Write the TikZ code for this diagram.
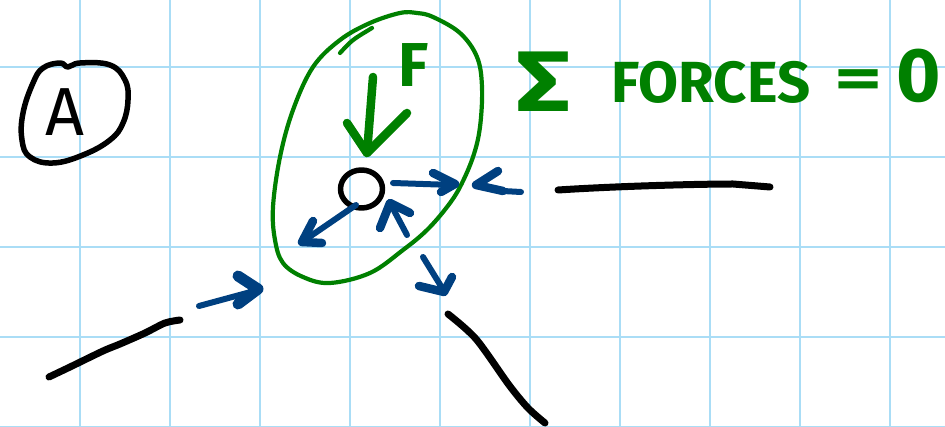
\documentclass[tikz,border=0pt]{standalone}
\usepackage{fontspec}
\setmainfont{Fira Sans}
\usetikzlibrary{shapes.geometric}
\definecolor{gridblue}{RGB}{170,221,246}
\definecolor{pgreen}{RGB}{0,128,0}
\definecolor{pblue}{RGB}{0,64,128}
\begin{document}
\begin{tikzpicture}[x=1pt,y=-1pt, line cap=round, line join=round,
  gridline/.style={gridblue, line width=2.6pt},
  ink/.style={black, line width=5.5pt},
  inkthick/.style={black, line width=7pt},
  gstroke/.style={pgreen, line width=4.2pt},
  gthick/.style={pgreen, line width=8.5pt},
  bstroke/.style={pblue, line width=6pt},
  bhead/.style={pblue, line width=8.5pt},
  lbl/.style={inner sep=0pt, anchor=center}]
\useasboundingbox (0,0) rectangle (945,427);
\fill[white] (0,0) rectangle (945,427);
% grid
\foreach \x in {80,170,...,890} \draw[gridline] (\x,0) -- (\x,427);
\foreach \y in {67,157,...,427} \draw[gridline] (0,\y) -- (945,\y);

% circled A
\draw[ink] plot[smooth cycle, tension=0.7] coordinates {
  (60,63) (68,67) (80,63) (110,65) (125,80) (128,100) (123,123) (110,140)
  (83,155) (53,163) (30,157) (22,140) (23,113) (33,83) (43,68)};
\node[lbl, font=\fontsize{68}{68}\selectfont\mdseries] (labelA) at (65,112) {A};

% green ellipse (system boundary)
\draw[gstroke] plot[smooth cycle, tension=0.6] coordinates {
  (417,13) (433,17) (460,33) (477,57) (482,87) (480,127) (473,157) (460,187)
  (447,207) (427,230) (403,250) (370,273) (330,283) (303,277) (283,263)
  (275,240) (273,207) (280,157) (293,110) (313,67) (340,40) (370,23) (400,13)};
\draw[gstroke] (340,53) .. controls (352,40) .. (372,28);

% F label and arrow
\node[lbl, pgreen, font=\fontsize{62}{62}\selectfont\bfseries] (labelF) at (414,65) {F};
\coordinate (ftail) at (373,77);
\coordinate (ftip) at (367,153);
\draw[gthick] (ftail) -- (ftip);
\draw[gthick] (347,123) -- (ftip) -- (407,113);

% particle
\node[draw, black, line width=5.5pt, ellipse, minimum width=42pt, minimum height=38pt, inner sep=0pt] (particle) at (361.5,189) {};

% blue force arrows
% right
\draw[bstroke] (393,183) -- (453,185);
\draw[bhead] (433,173) -- (455,184) -- (441,192);
% lower-left
\draw[bstroke] (356,205) -- (302,242);
\draw[bhead] (313,221) -- (302,242) -- (322,243);
% up toward particle
\draw[bstroke] (407,235) -- (390,203);
\draw[bhead] (380,228) -- (390,203) -- (410,213);
% far right pointing left
\draw[bhead] (498,171) -- (476,185) -- (503,191);
\draw[bstroke] (503,191) -- (521,192);
% lower arrow
\draw[bstroke] (423,257) -- (444,291);
\draw[bhead] (419,286) -- (444,292) -- (452,277);
% lower-left outside arrow
\draw[bstroke] (199,306) -- (258,290);
\draw[pblue, line width=11pt] (238,276) -- (258,289) -- (238,304);

% black members
\draw[inkthick] (558,190) .. controls (620,186) and (700,184) .. (733,184) -- (770,187);
\draw[inkthick] plot[smooth, tension=0.5] coordinates {(49,377) (70,367) (103,351) (120,344) (145,333) (165,323) (180,320)};
\draw[inkthick] plot[smooth, tension=0.5] coordinates {(448,314) (476,339) (509,385) (528,408) (545,423)};

% sum of forces text
\node[lbl, pgreen, font=\fontsize{86}{86}\selectfont\bfseries, xscale=1.25, transform shape] (sigma) at (544,82) {Σ};
\node[lbl, pgreen, font=\fontsize{58}{58}\selectfont\bfseries] (forces) at (711,82) {FORCES};
\node[lbl, pgreen, font=\fontsize{58}{58}\selectfont\bfseries, xscale=1.6, transform shape] (equals) at (859,84) {=};
\node[lbl, pgreen, font=\fontsize{76}{76}\selectfont\bfseries] (zero) at (919,76) {0};
\end{tikzpicture}
\end{document}
